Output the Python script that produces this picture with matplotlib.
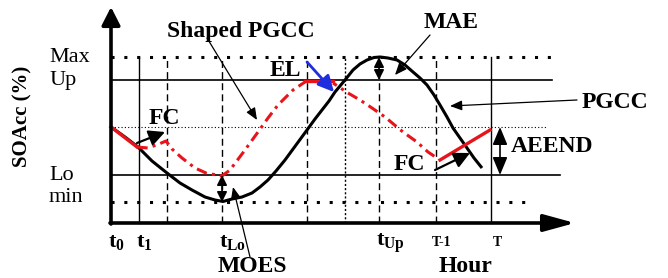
import numpy as np
import matplotlib
matplotlib.use("Agg")
import matplotlib.pyplot as plt

plt.rcParams["font.family"] = ["Liberation Serif", "DejaVu Serif"]
plt.rcParams["mathtext.fontset"] = "custom"
plt.rcParams["mathtext.rm"] = "Liberation Serif"
plt.rcParams["mathtext.bf"] = "Liberation Serif:bold"

# SOC levels (schematic units, 0 = hour axis)
soc_max = 166
soc_up = 143
soc_mid = 96
soc_lo = 48
soc_min = 21

# time marks (schematic units, 0 = t0)
t0, t1, t_fc, t_lo, t_el, t_cross, t_up, t_end1, t_end = 0, 28, 56, 111, 196, 234, 268, 325, 380
tick_pos = [t0, t1, t_lo, t_up, t_end1, t_end]
tick_lab = [r"$\mathbf{t_0}$", r"$\mathbf{t_1}$", r"$\mathbf{t_{Lo}}$", r"$\mathbf{t_{Up}}$", "T-1", "T"]

# PGCC (black curve)
pgcc_x = [0, 14, 27, 41, 56, 69, 81, 94, 104, 112, 121, 131, 141, 149, 157, 165, 174, 185, 196, 204,
          211, 218, 224, 234, 242, 249, 256, 263, 269, 277, 286, 294, 302, 309, 316, 323, 329, 336,
          342, 349, 356, 363, 371]
pgcc_y = [96, 86, 76, 62, 50, 40, 33, 26, 23, 21.5, 24, 26, 30, 36, 43, 52, 63, 78, 93, 104,
          113, 122, 131, 143, 153, 159, 163, 165.5, 166, 165, 163, 158, 151, 145, 138, 128, 118, 106,
          95, 85, 75, 65, 55]

# Shaped PGCC (red), solid pieces and dash-dot pieces
sh_a_x = [0, 26]
sh_a_y = [96, 76]
sh_b_x = [26, 37, 48, 55, 61, 71, 84, 95, 111, 119, 134, 147, 157, 167, 182, 194]
sh_b_y = [76, 75, 79, 82, 74, 65, 55, 50, 47, 53, 73, 91, 105, 118, 133, 141]
sh_c_x = [194, 222]
sh_c_y = [142, 142]
sh_d_x = [222, 237, 249, 261, 274, 292, 306, 317, 326]
sh_d_y = [140, 130, 123, 115, 106, 91, 81, 71, 65]
sh_e_x = [329, 379]
sh_e_y = [63, 93]

red = "#e8141b"

fig = plt.figure(figsize=(6.68, 2.78), dpi=100)
ax = fig.add_axes([0, 0, 1, 1])
ax.set_xlim(-111, 557)
ax.set_ylim(-55, 223)
ax.axis("off")

# horizontal reference levels
ax.plot([0, 444], [soc_max, soc_max], color="black", lw=2.2, linestyle=(0, (1, 3.2)), dash_capstyle="butt")
ax.plot([0, 441], [soc_up, soc_up], color="black", lw=1.2)
ax.plot([0, 436], [soc_mid, soc_mid], color="black", lw=0.8, linestyle=(0, (1, 2)))
ax.plot([0, 449], [soc_lo, soc_lo], color="black", lw=1.2)
ax.plot([0, 422], [soc_min, soc_min], color="black", lw=2.2, linestyle=(0, (1, 3.2)), dash_capstyle="butt")

# vertical time marks
for x in [t1, t_end]:
    ax.plot([x, x], [0, soc_max], color="black", lw=1.0)
for x in [t_fc, t_lo, t_el, t_up, t_end1]:
    ax.plot([x, x], [0, soc_max], color="black", lw=1.0, linestyle=(0, (5, 3)))
ax.plot([t_cross, t_cross], [0, soc_max], color="black", lw=1.0, linestyle=(0, (1.5, 1.5)))

# axes with arrows
ax.annotate("", xy=(0, 216), xytext=(0, -1),
            arrowprops=dict(arrowstyle="-|>,head_length=0.55,head_width=0.28", lw=2.6, color="black",
                            mutation_scale=20, shrinkA=0, shrinkB=0))
ax.annotate("", xy=(464, 0), xytext=(-1, 0),
            arrowprops=dict(arrowstyle="-|>,head_length=0.95,head_width=0.26", lw=2.6, color="black",
                            mutation_scale=20, shrinkA=0, shrinkB=0))

# curves
ax.plot(pgcc_x, pgcc_y, color="black", lw=2.2, solid_capstyle="butt")
ax.plot(sh_a_x, sh_a_y, color=red, lw=2.4)
ax.plot(sh_b_x, sh_b_y, color=red, lw=2.2, linestyle=(0, (3.5, 1.7, 1, 1.7)))
ax.plot(sh_c_x, sh_c_y, color=red, lw=2.4)
ax.plot(sh_d_x, sh_d_y, color=red, lw=2.2, linestyle=(2, (3.5, 1.7, 1, 1.7)))
ax.plot(sh_e_x, sh_e_y, color=red, lw=2.4)

# double arrows
dbl = dict(arrowstyle="<|-|>,head_length=0.5,head_width=0.25", lw=1.2, color="black",
           mutation_scale=12, shrinkA=0, shrinkB=0)
ax.annotate("", xy=(t_up, soc_max), xytext=(t_up, soc_up), arrowprops=dbl)
ax.annotate("", xy=(t_lo, soc_min), xytext=(t_lo, soc_lo), arrowprops=dbl)
ax.annotate("", xy=(389, soc_mid), xytext=(389, soc_lo),
            arrowprops=dict(arrowstyle="<|-|>,head_length=0.6,head_width=0.25", lw=1.2, color="black",
                            mutation_scale=18, shrinkA=0, shrinkB=0))

# pointer arrows
thin = dict(arrowstyle="-|>,head_length=0.6,head_width=0.25", lw=0.9, color="black",
            mutation_scale=12, shrinkA=0, shrinkB=0)
ax.annotate("", xy=(146, 103), xytext=(96, 185), arrowprops=thin)
ax.annotate("", xy=(284, 148), xytext=(319, 188), arrowprops=thin)
ax.annotate("", xy=(339, 117), xytext=(466, 123), arrowprops=thin)
ax.annotate("", xy=(122, 36), xytext=(139, -34), arrowprops=thin)
fc = dict(arrowstyle="-|>,head_length=0.6,head_width=0.3", lw=1.6, color="black",
          mutation_scale=16, shrinkA=0, shrinkB=0)
ax.annotate("", xy=(54, 91), xytext=(26, 80), arrowprops=fc)
ax.annotate("", xy=(359, 70), xytext=(324, 53), arrowprops=fc)
ax.annotate("", xy=(223, 131), xytext=(196, 161),
            arrowprops=dict(arrowstyle="-|>,head_length=0.6,head_width=0.3", lw=2.0, color="#1f2de0",
                            mutation_scale=16, shrinkA=0, shrinkB=0))

# labels
bold = dict(fontsize=17, fontweight="bold", ha="center", va="center")
ax.text(130, 192, "Shaped PGCC", **bold)
ax.text(340, 200, "MAE", **bold)
ax.text(174, 152, "EL", **bold)
ax.text(504, 121, "PGCC", **bold)
ax.text(53, 105, "FC", **bold)
ax.text(298, 58, "FC", **bold)
ax.text(441, 77, "AEEND", **bold)
ax.text(141, -44, "MOES", **bold)
ax.text(355, -44, "Hour", **bold)

for x, lab in zip(tick_pos, tick_lab):
    if lab.startswith("T"):
        ax.text(x + 6, -20, lab, fontsize=10, fontweight="bold", ha="center", va="center")
    else:
        ax.text(x - 3, -20, lab, fontsize=16, ha="left", va="center")

for y, lab in zip([soc_max, soc_up, soc_lo, 26], ["Max", "Up", "Lo", "min"]):
    ax.text(-62, y, lab, fontsize=16, ha="left", va="center")

ax.text(-89, 107, "SOAcc (%)", fontsize=15, fontweight="bold", rotation=90, ha="center", va="center")

fig.savefig("out.png", dpi=100)
